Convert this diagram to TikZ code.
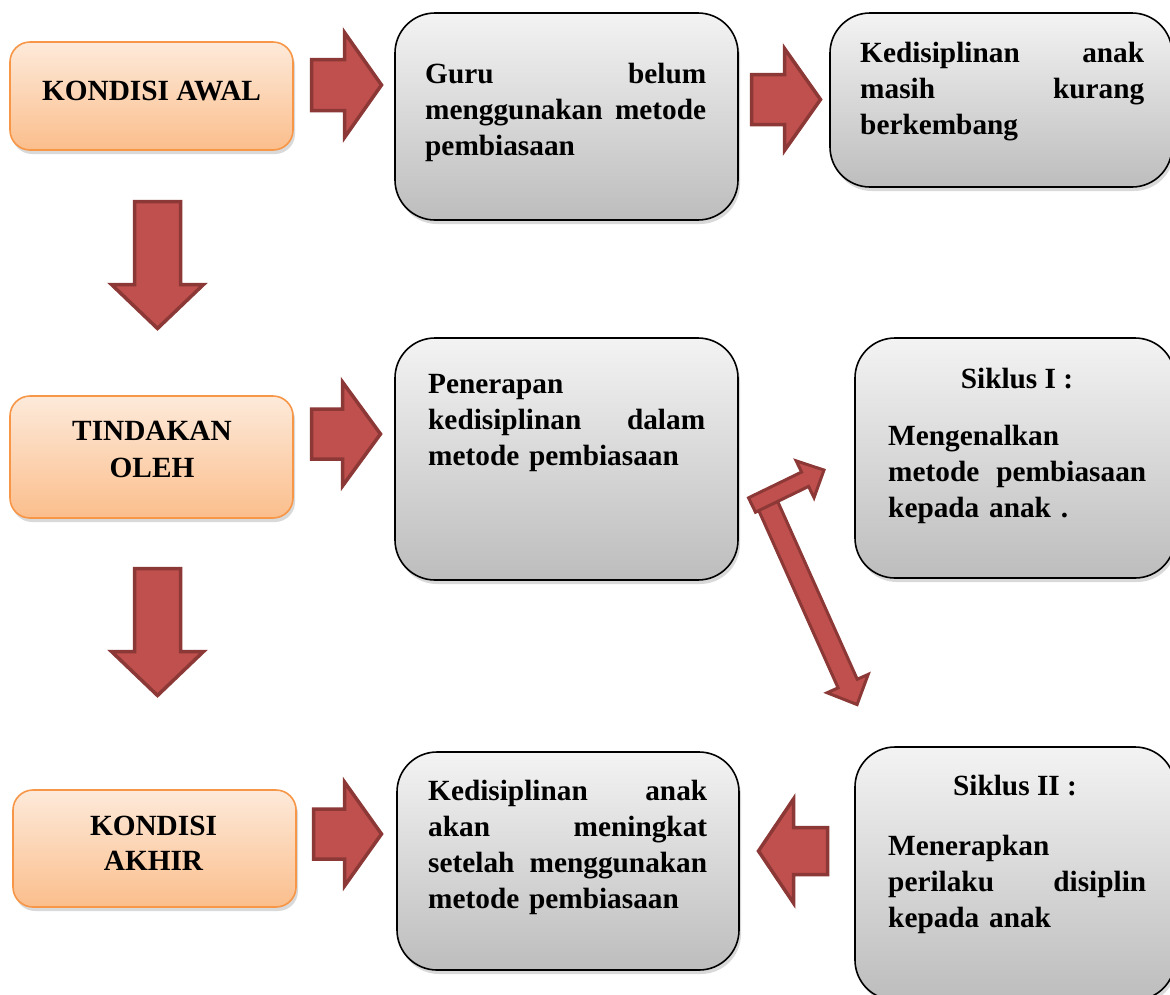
\documentclass[tikz,border=0pt]{standalone}
\usepackage{fontspec}
\setmainfont{Liberation Serif}
\usetikzlibrary{shadows}
\definecolor{arrfill}{HTML}{C0504D}
\definecolor{arrdraw}{HTML}{8C3836}
\definecolor{oborder}{HTML}{F79646}
\definecolor{otop}{HTML}{FDEADA}
\definecolor{obot}{HTML}{FBBE8C}
\definecolor{gtop}{HTML}{F3F3F3}
\definecolor{gbot}{HTML}{BDBDBD}
% start x, start y, canvas angle, length, shaft half, head half, head length
\newcommand\blockarrow[8][]{%
  \begin{scope}[shift={(#2,#3)},rotate=#4]
    \draw[barrow,#1] (0,-#6) -- ({#5-#8},-#6) -- ({#5-#8},-#7) -- (#5,0) -- ({#5-#8},#7) -- ({#5-#8},#6) -- (0,#6) -- cycle;
  \end{scope}}
\begin{document}
\begin{tikzpicture}[x=1pt,y=-1pt,
  barrow/.style={fill=arrfill,draw=arrdraw,line width=3.5pt,line join=miter},
  gbox/.style={draw=black,line width=1.6pt,rounded corners=40pt,top color=gtop,bottom color=gbot,
    inner sep=0pt,drop shadow={opacity=0.3,shadow xshift=2pt,shadow yshift=-4pt}},
  obox/.style={draw=oborder,line width=1.6pt,rounded corners=20pt,top color=otop,bottom color=obot,
    inner sep=0pt,drop shadow={opacity=0.3,shadow xshift=2pt,shadow yshift=-4pt}},
  txt/.style={font=\bfseries\fontsize{29.3}{36}\selectfont,inner sep=0pt,anchor=base west,align=left},
  ctxt/.style={font=\bfseries\fontsize{29.3}{36}\selectfont,inner sep=0pt,anchor=base,align=center}]
\useasboundingbox (0,0) rectangle (1170,994);
\clip (0,0) rectangle (1170,994);

% orange boxes
\node[obox,minimum width=283,minimum height=108] (o1) at (151.5,96) {};
\node[obox,minimum width=283,minimum height=122] (o2) at (151.5,457) {};
\node[obox,minimum width=283,minimum height=117] (o3) at (154.5,848.5) {};
\node[ctxt] (t-o1) at (151.5,100) {KONDISI AWAL};
\node[ctxt,font=\bfseries\fontsize{29.3}{37}\selectfont] (t-o2) at (152,477) {TINDAKAN\\OLEH};
\node[ctxt,font=\bfseries\fontsize{29.3}{35}\selectfont] (t-o3) at (153.5,870) {KONDISI\\AKHIR};

% grey boxes
\node[gbox,minimum width=343,minimum height=207] (b1) at (566.5,116.5) {};
\node[gbox,minimum width=342,minimum height=174] (b2) at (1001,100) {};
\node[gbox,minimum width=343,minimum height=242] (b3) at (566.5,459) {};
\node[gbox,minimum width=320,minimum height=240] (s1) at (1015,458) {};
\node[gbox,minimum width=342,minimum height=218] (b4) at (568,861) {};
\node[gbox,minimum width=320,minimum height=253] (s2) at (1015,873.5) {};

\node[txt,text width=281] (t-b1) at (425,83) {Guru\hfill belum\\menggunakan\hfill metode\\pembiasaan};
\node[txt,text width=284] (t-b2) at (860,62) {Kedisiplinan\hfill anak\\masih\hfill kurang\\berkembang};
\node[txt,text width=277] (t-b3) at (428,393) {Penerapan\\kedisiplinan\hfill dalam\\metode pembiasaan};
\node[ctxt] (h-s1) at (1017,388) {Siklus I :};
\node[txt,text width=258] (t-s1) at (888,445) {Mengenalkan\\metode\hfill pembiasaan\\kepada anak .};
\node[txt,text width=279] (t-b4) at (428,800) {Kedisiplinan\hfill anak\\akan\hfill meningkat\\setelah\hfill menggunakan\\metode pembiasaan};
\node[ctxt] (h-s2) at (1015,795) {Siklus II :};
\node[txt,text width=258] (t-s2) at (888,855) {Menerapkan\\perilaku\hfill disiplin\\kepada anak};

% block arrows
\blockarrow{311.5}{85}{0}{70}{25.5}{52.5}{37}
\blockarrow{751.5}{99.5}{0}{69}{25}{51}{36}
\blockarrow{311.5}{434}{0}{69}{25}{52}{38}
\blockarrow{313.5}{834}{0}{68}{25}{52}{37}
\blockarrow{827.5}{851}{180}{69}{23.5}{52}{35}
\blockarrow{157.5}{201.5}{-90}{127}{23}{46}{44}
\blockarrow{157.5}{568.5}{-90}{127}{23}{46}{44}
\blockarrow[line width=3pt]{766}{501}{-65.9}{223}{10.5}{22.5}{23}
\blockarrow[line width=3pt]{752}{505}{25.9}{80}{8}{20.5}{21}
\end{tikzpicture}
\end{document}
